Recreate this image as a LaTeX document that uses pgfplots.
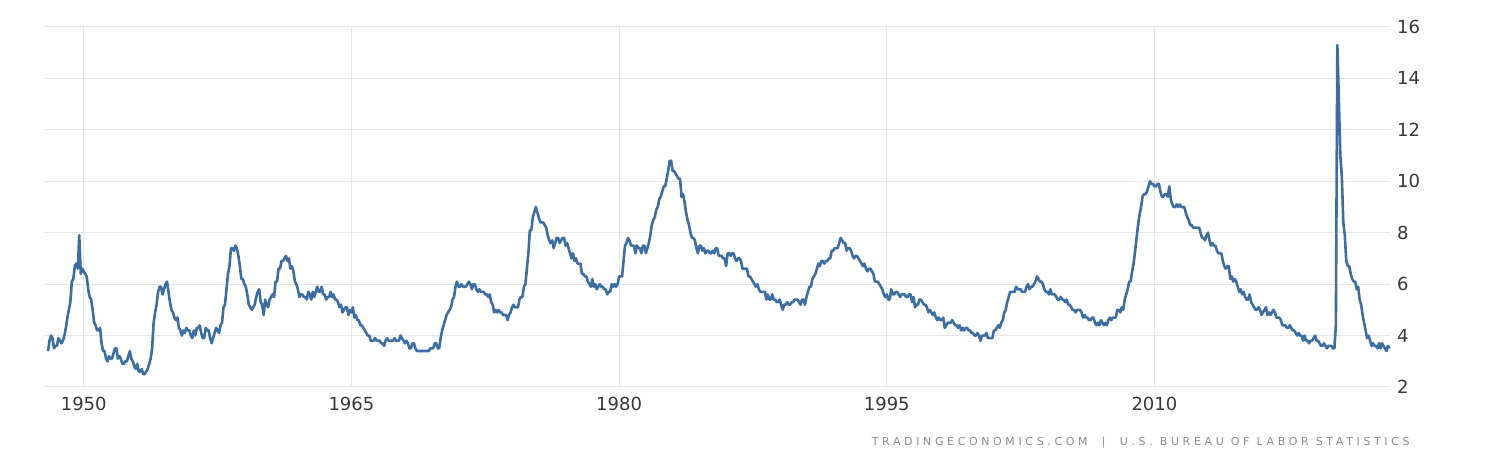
\documentclass[border=0pt]{standalone}
\usepackage{pgfplots}
\pgfplotsset{compat=1.18}
\usepackage{pgfplotstable}
\usepackage{fontspec}
\setmainfont{DejaVu Sans}
\newfontfamily\srcfont[LetterSpace=33]{DejaVu Sans}
\definecolor{linecol}{RGB}{58,110,165}
\definecolor{gridcol}{RGB}{230,230,230}
\definecolor{labcol}{RGB}{55,55,55}
\definecolor{srccol}{RGB}{140,140,140}

% US unemployment rate, monthly, Jan 1948 - Mar 2023
\pgfplotstableread[row sep=\\]{
u\\
3.4\\ 3.8\\ 4.0\\ 3.9\\ 3.5\\ 3.6\\ 3.6\\ 3.9\\ 3.8\\ 3.7\\ 3.8\\ 4.0\\
4.3\\ 4.7\\ 5.0\\ 5.3\\ 6.1\\ 6.2\\ 6.7\\ 6.8\\ 6.6\\ 7.9\\ 6.4\\ 6.6\\
6.5\\ 6.4\\ 6.3\\ 5.8\\ 5.5\\ 5.4\\ 5.0\\ 4.5\\ 4.4\\ 4.2\\ 4.2\\ 4.3\\
3.7\\ 3.4\\ 3.4\\ 3.1\\ 3.0\\ 3.2\\ 3.1\\ 3.1\\ 3.3\\ 3.5\\ 3.5\\ 3.1\\
3.2\\ 3.1\\ 2.9\\ 2.9\\ 3.0\\ 3.0\\ 3.2\\ 3.4\\ 3.1\\ 3.0\\ 2.8\\ 2.7\\
2.9\\ 2.6\\ 2.6\\ 2.7\\ 2.5\\ 2.5\\ 2.6\\ 2.7\\ 2.9\\ 3.1\\ 3.5\\ 4.5\\
4.9\\ 5.2\\ 5.7\\ 5.9\\ 5.9\\ 5.6\\ 5.8\\ 6.0\\ 6.1\\ 5.7\\ 5.3\\ 5.0\\
4.9\\ 4.7\\ 4.6\\ 4.7\\ 4.3\\ 4.2\\ 4.0\\ 4.2\\ 4.1\\ 4.3\\ 4.2\\ 4.2\\
4.0\\ 3.9\\ 4.2\\ 4.0\\ 4.3\\ 4.3\\ 4.4\\ 4.1\\ 3.9\\ 3.9\\ 4.3\\ 4.2\\
4.2\\ 3.9\\ 3.7\\ 3.9\\ 4.1\\ 4.3\\ 4.2\\ 4.1\\ 4.4\\ 4.5\\ 5.1\\ 5.2\\
5.8\\ 6.4\\ 6.7\\ 7.4\\ 7.4\\ 7.3\\ 7.5\\ 7.4\\ 7.1\\ 6.7\\ 6.2\\ 6.2\\
6.0\\ 5.9\\ 5.6\\ 5.2\\ 5.1\\ 5.0\\ 5.1\\ 5.2\\ 5.5\\ 5.7\\ 5.8\\ 5.3\\
5.2\\ 4.8\\ 5.4\\ 5.2\\ 5.1\\ 5.4\\ 5.5\\ 5.6\\ 5.5\\ 6.1\\ 6.1\\ 6.6\\
6.6\\ 6.9\\ 6.9\\ 7.0\\ 7.1\\ 6.9\\ 7.0\\ 6.6\\ 6.7\\ 6.5\\ 6.1\\ 6.0\\
5.8\\ 5.5\\ 5.6\\ 5.6\\ 5.5\\ 5.5\\ 5.4\\ 5.7\\ 5.6\\ 5.4\\ 5.7\\ 5.5\\
5.7\\ 5.9\\ 5.7\\ 5.7\\ 5.9\\ 5.6\\ 5.6\\ 5.4\\ 5.5\\ 5.5\\ 5.7\\ 5.5\\
5.6\\ 5.4\\ 5.4\\ 5.3\\ 5.1\\ 5.2\\ 4.9\\ 5.0\\ 5.1\\ 5.1\\ 4.8\\ 5.0\\
4.9\\ 5.1\\ 4.7\\ 4.8\\ 4.6\\ 4.6\\ 4.4\\ 4.4\\ 4.3\\ 4.2\\ 4.1\\ 4.0\\
4.0\\ 3.8\\ 3.8\\ 3.8\\ 3.9\\ 3.8\\ 3.8\\ 3.8\\ 3.7\\ 3.7\\ 3.6\\ 3.8\\
3.9\\ 3.8\\ 3.8\\ 3.8\\ 3.8\\ 3.9\\ 3.8\\ 3.8\\ 3.8\\ 4.0\\ 3.9\\ 3.8\\
3.7\\ 3.8\\ 3.7\\ 3.5\\ 3.5\\ 3.7\\ 3.7\\ 3.5\\ 3.4\\ 3.4\\ 3.4\\ 3.4\\
3.4\\ 3.4\\ 3.4\\ 3.4\\ 3.4\\ 3.5\\ 3.5\\ 3.5\\ 3.7\\ 3.7\\ 3.5\\ 3.5\\
3.9\\ 4.2\\ 4.4\\ 4.6\\ 4.8\\ 4.9\\ 5.0\\ 5.1\\ 5.4\\ 5.5\\ 5.9\\ 6.1\\
5.9\\ 5.9\\ 6.0\\ 5.9\\ 5.9\\ 5.9\\ 6.0\\ 6.1\\ 6.0\\ 5.8\\ 6.0\\ 6.0\\
5.8\\ 5.7\\ 5.8\\ 5.7\\ 5.7\\ 5.7\\ 5.6\\ 5.6\\ 5.5\\ 5.6\\ 5.3\\ 5.2\\
4.9\\ 5.0\\ 4.9\\ 5.0\\ 4.9\\ 4.9\\ 4.8\\ 4.8\\ 4.8\\ 4.6\\ 4.8\\ 4.9\\
5.1\\ 5.2\\ 5.1\\ 5.1\\ 5.1\\ 5.4\\ 5.5\\ 5.5\\ 5.9\\ 6.0\\ 6.6\\ 7.2\\
8.1\\ 8.1\\ 8.6\\ 8.8\\ 9.0\\ 8.8\\ 8.6\\ 8.4\\ 8.4\\ 8.4\\ 8.3\\ 8.2\\
7.9\\ 7.7\\ 7.6\\ 7.7\\ 7.4\\ 7.6\\ 7.8\\ 7.8\\ 7.6\\ 7.7\\ 7.8\\ 7.8\\
7.5\\ 7.6\\ 7.4\\ 7.2\\ 7.0\\ 7.2\\ 6.9\\ 7.0\\ 6.8\\ 6.8\\ 6.8\\ 6.4\\
6.4\\ 6.3\\ 6.3\\ 6.1\\ 6.0\\ 5.9\\ 6.2\\ 5.9\\ 6.0\\ 5.8\\ 5.9\\ 6.0\\
5.9\\ 5.9\\ 5.8\\ 5.8\\ 5.6\\ 5.7\\ 5.7\\ 6.0\\ 5.9\\ 6.0\\ 5.9\\ 6.0\\
6.3\\ 6.3\\ 6.3\\ 6.9\\ 7.5\\ 7.6\\ 7.8\\ 7.7\\ 7.5\\ 7.5\\ 7.5\\ 7.2\\
7.5\\ 7.4\\ 7.4\\ 7.2\\ 7.5\\ 7.5\\ 7.2\\ 7.4\\ 7.6\\ 7.9\\ 8.3\\ 8.5\\
8.6\\ 8.9\\ 9.0\\ 9.3\\ 9.4\\ 9.6\\ 9.8\\ 9.8\\ 10.1\\ 10.4\\ 10.8\\ 10.8\\
10.4\\ 10.4\\ 10.3\\ 10.2\\ 10.1\\ 10.1\\ 9.4\\ 9.5\\ 9.2\\ 8.8\\ 8.5\\ 8.3\\
8.0\\ 7.8\\ 7.8\\ 7.7\\ 7.4\\ 7.2\\ 7.5\\ 7.5\\ 7.3\\ 7.4\\ 7.2\\ 7.3\\
7.3\\ 7.2\\ 7.2\\ 7.3\\ 7.2\\ 7.4\\ 7.4\\ 7.1\\ 7.1\\ 7.1\\ 7.0\\ 7.0\\
6.7\\ 7.2\\ 7.2\\ 7.1\\ 7.2\\ 7.2\\ 7.0\\ 6.9\\ 7.0\\ 7.0\\ 6.9\\ 6.6\\
6.6\\ 6.6\\ 6.6\\ 6.3\\ 6.3\\ 6.2\\ 6.1\\ 6.0\\ 5.9\\ 6.0\\ 5.8\\ 5.7\\
5.7\\ 5.7\\ 5.7\\ 5.4\\ 5.6\\ 5.4\\ 5.4\\ 5.6\\ 5.4\\ 5.4\\ 5.3\\ 5.3\\
5.4\\ 5.2\\ 5.0\\ 5.2\\ 5.2\\ 5.3\\ 5.2\\ 5.2\\ 5.3\\ 5.3\\ 5.4\\ 5.4\\
5.4\\ 5.3\\ 5.2\\ 5.4\\ 5.4\\ 5.2\\ 5.5\\ 5.7\\ 5.9\\ 5.9\\ 6.2\\ 6.3\\
6.4\\ 6.6\\ 6.8\\ 6.7\\ 6.9\\ 6.9\\ 6.8\\ 6.9\\ 6.9\\ 7.0\\ 7.0\\ 7.3\\
7.3\\ 7.4\\ 7.4\\ 7.4\\ 7.6\\ 7.8\\ 7.7\\ 7.6\\ 7.6\\ 7.3\\ 7.4\\ 7.4\\
7.3\\ 7.1\\ 7.0\\ 7.1\\ 7.1\\ 7.0\\ 6.9\\ 6.8\\ 6.7\\ 6.8\\ 6.6\\ 6.5\\
6.6\\ 6.6\\ 6.5\\ 6.4\\ 6.1\\ 6.1\\ 6.1\\ 6.0\\ 5.9\\ 5.8\\ 5.6\\ 5.5\\
5.6\\ 5.4\\ 5.4\\ 5.8\\ 5.6\\ 5.6\\ 5.7\\ 5.7\\ 5.6\\ 5.5\\ 5.6\\ 5.6\\
5.6\\ 5.5\\ 5.5\\ 5.6\\ 5.6\\ 5.3\\ 5.5\\ 5.1\\ 5.2\\ 5.2\\ 5.4\\ 5.4\\
5.3\\ 5.2\\ 5.2\\ 5.1\\ 4.9\\ 5.0\\ 4.9\\ 4.8\\ 4.9\\ 4.7\\ 4.6\\ 4.7\\
4.6\\ 4.6\\ 4.7\\ 4.3\\ 4.4\\ 4.5\\ 4.5\\ 4.5\\ 4.6\\ 4.5\\ 4.4\\ 4.4\\
4.3\\ 4.4\\ 4.2\\ 4.3\\ 4.2\\ 4.3\\ 4.3\\ 4.2\\ 4.2\\ 4.1\\ 4.1\\ 4.0\\
4.0\\ 4.1\\ 4.0\\ 3.8\\ 4.0\\ 4.0\\ 4.0\\ 4.1\\ 3.9\\ 3.9\\ 3.9\\ 3.9\\
4.2\\ 4.2\\ 4.3\\ 4.4\\ 4.3\\ 4.5\\ 4.6\\ 4.9\\ 5.0\\ 5.3\\ 5.5\\ 5.7\\
5.7\\ 5.7\\ 5.7\\ 5.9\\ 5.8\\ 5.8\\ 5.8\\ 5.7\\ 5.7\\ 5.7\\ 5.9\\ 6.0\\
5.8\\ 5.9\\ 5.9\\ 6.0\\ 6.1\\ 6.3\\ 6.2\\ 6.1\\ 6.1\\ 6.0\\ 5.8\\ 5.7\\
5.7\\ 5.6\\ 5.8\\ 5.6\\ 5.6\\ 5.6\\ 5.5\\ 5.4\\ 5.4\\ 5.5\\ 5.4\\ 5.4\\
5.3\\ 5.4\\ 5.2\\ 5.2\\ 5.1\\ 5.0\\ 5.0\\ 4.9\\ 5.0\\ 5.0\\ 5.0\\ 4.9\\
4.7\\ 4.8\\ 4.7\\ 4.7\\ 4.6\\ 4.6\\ 4.7\\ 4.7\\ 4.5\\ 4.4\\ 4.5\\ 4.4\\
4.6\\ 4.5\\ 4.4\\ 4.5\\ 4.4\\ 4.6\\ 4.7\\ 4.6\\ 4.7\\ 4.7\\ 4.7\\ 5.0\\
5.0\\ 4.9\\ 5.1\\ 5.0\\ 5.4\\ 5.6\\ 5.8\\ 6.1\\ 6.1\\ 6.5\\ 6.8\\ 7.3\\
7.8\\ 8.3\\ 8.7\\ 9.0\\ 9.4\\ 9.5\\ 9.5\\ 9.6\\ 9.8\\ 10.0\\ 9.9\\ 9.9\\
9.8\\ 9.8\\ 9.9\\ 9.9\\ 9.6\\ 9.4\\ 9.4\\ 9.5\\ 9.5\\ 9.4\\ 9.8\\ 9.3\\
9.1\\ 9.0\\ 9.0\\ 9.1\\ 9.0\\ 9.1\\ 9.0\\ 9.0\\ 9.0\\ 8.8\\ 8.6\\ 8.5\\
8.3\\ 8.3\\ 8.2\\ 8.2\\ 8.2\\ 8.2\\ 8.2\\ 8.0\\ 7.8\\ 7.8\\ 7.7\\ 7.9\\
8.0\\ 7.7\\ 7.5\\ 7.6\\ 7.5\\ 7.5\\ 7.3\\ 7.2\\ 7.2\\ 7.2\\ 6.9\\ 6.7\\
6.6\\ 6.7\\ 6.7\\ 6.2\\ 6.3\\ 6.1\\ 6.2\\ 6.1\\ 5.9\\ 5.7\\ 5.8\\ 5.6\\
5.7\\ 5.5\\ 5.4\\ 5.4\\ 5.6\\ 5.3\\ 5.2\\ 5.1\\ 5.0\\ 5.0\\ 5.1\\ 5.0\\
4.8\\ 4.9\\ 5.0\\ 5.1\\ 4.8\\ 4.9\\ 4.8\\ 4.9\\ 5.0\\ 4.9\\ 4.7\\ 4.7\\
4.7\\ 4.6\\ 4.4\\ 4.4\\ 4.4\\ 4.3\\ 4.3\\ 4.4\\ 4.3\\ 4.2\\ 4.2\\ 4.1\\
4.0\\ 4.1\\ 4.0\\ 4.0\\ 3.8\\ 4.0\\ 3.8\\ 3.8\\ 3.7\\ 3.8\\ 3.8\\ 3.9\\
4.0\\ 3.8\\ 3.8\\ 3.7\\ 3.6\\ 3.6\\ 3.7\\ 3.6\\ 3.5\\ 3.6\\ 3.6\\ 3.6\\
3.5\\ 3.5\\ 4.4\\ 15.3\\ 13.2\\ 11.0\\ 10.2\\ 8.4\\ 7.9\\ 6.9\\ 6.7\\ 6.7\\
6.4\\ 6.2\\ 6.1\\ 6.1\\ 5.8\\ 5.9\\ 5.4\\ 5.2\\ 4.8\\ 4.5\\ 4.2\\ 3.9\\
4.0\\ 3.8\\ 3.6\\ 3.7\\ 3.6\\ 3.6\\ 3.5\\ 3.7\\ 3.5\\ 3.7\\ 3.6\\ 3.5\\
3.4\\ 3.6\\ 3.5\\
}\unrate

\begin{document}
\begin{tikzpicture}
\begin{axis}[
  scale only axis,
  width=672.5pt, height=180pt,
  xmin=1947.83, xmax=2023.2,
  ymin=2, ymax=16,
  xtick={1950,1965,1980,1995,2010},
  xticklabels={1950,1965,1980,1995,2010},
  ytick={2,4,6,8,10,12,14,16},
  grid=major,
  major grid style={draw=gridcol, line width=0.5pt},
  axis line style={draw=none},
  tick style={draw=none},
  yticklabel pos=right,
  ticklabel style={font=\fontsize{9}{10}\selectfont, text=labcol},
  xticklabel style={yshift=-1.5pt},
  /pgf/number format/assume math mode=true,
  clip=false,
]
\addplot[draw=linecol, line width=1.3pt, line join=round] table[x expr=1948+\coordindex/12, y=u] {\unrate};
\path (rel axis cs:-0.03346,-0.21389) rectangle (rel axis cs:1.08178,1.075);
\node[anchor=east, inner sep=0pt, font=\srcfont\fontsize{5.5}{6}\selectfont, text=srccol]
  at (rel axis cs:1.0149,-0.1556) {TRADINGECONOMICS.COM \ | \ U.S. BUREAU OF LABOR STATISTICS};
\end{axis}
\end{tikzpicture}
\end{document}
